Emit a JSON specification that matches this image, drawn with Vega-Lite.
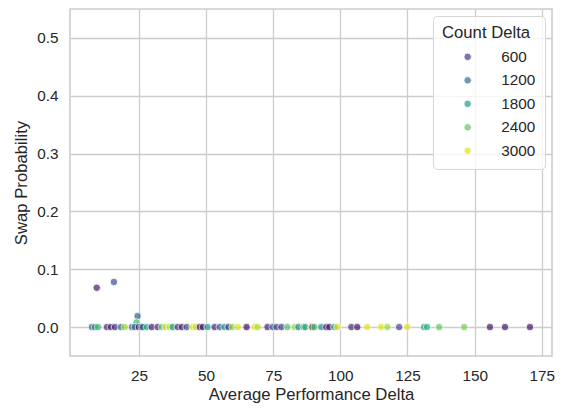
{
  "$schema": "https://vega.github.io/schema/vega-lite/v6.json",
  "width": 482,
  "height": 347,
  "autosize": {"type": "none"},
  "padding": {"left": 70, "top": 9, "right": 9, "bottom": 52},
  "background": "white",
  "config": {
    "font": "Liberation Sans",
    "view": {"stroke": "#cccccc", "strokeWidth": 1.6},
    "axis": {
      "domain": false,
      "ticks": false,
      "grid": true,
      "gridColor": "#cccccc",
      "gridWidth": 1.3,
      "labelColor": "#262626",
      "labelFontSize": 15.3,
      "titleColor": "#262626",
      "titleFontSize": 16.7,
      "titleFontWeight": "normal",
      "labelPadding": 12
    }
  },
  "data": {
    "values": [
      {"avg_perf_delta": 9.3, "swap_prob": 0.068, "count_delta": 250},
      {"avg_perf_delta": 15.7, "swap_prob": 0.078, "count_delta": 800},
      {"avg_perf_delta": 24.5, "swap_prob": 0.019, "count_delta": 1000},
      {"avg_perf_delta": 24.1, "swap_prob": 0.008, "count_delta": 2200},
      {"avg_perf_delta": 7.5, "swap_prob": 0, "count_delta": 1100},
      {"avg_perf_delta": 8.7, "swap_prob": 0, "count_delta": 1400},
      {"avg_perf_delta": 9.8, "swap_prob": 0, "count_delta": 2200},
      {"avg_perf_delta": 13.1, "swap_prob": 0, "count_delta": 400},
      {"avg_perf_delta": 14.6, "swap_prob": 0, "count_delta": 300},
      {"avg_perf_delta": 16.1, "swap_prob": 0, "count_delta": 500},
      {"avg_perf_delta": 18.3, "swap_prob": 0, "count_delta": 1100},
      {"avg_perf_delta": 19.8, "swap_prob": 0, "count_delta": 2700},
      {"avg_perf_delta": 22.4, "swap_prob": 0, "count_delta": 1000},
      {"avg_perf_delta": 23.5, "swap_prob": 0, "count_delta": 1200},
      {"avg_perf_delta": 25.0, "swap_prob": 0, "count_delta": 100},
      {"avg_perf_delta": 26.0, "swap_prob": 0, "count_delta": 400},
      {"avg_perf_delta": 26.5, "swap_prob": 0, "count_delta": 1300},
      {"avg_perf_delta": 28.0, "swap_prob": 0, "count_delta": 2000},
      {"avg_perf_delta": 29.8, "swap_prob": 0, "count_delta": 300},
      {"avg_perf_delta": 32.0, "swap_prob": 0, "count_delta": 400},
      {"avg_perf_delta": 33.6, "swap_prob": 0, "count_delta": 2400},
      {"avg_perf_delta": 35.0, "swap_prob": 0, "count_delta": 2900},
      {"avg_perf_delta": 36.5, "swap_prob": 0, "count_delta": 2800},
      {"avg_perf_delta": 37.6, "swap_prob": 0, "count_delta": 1700},
      {"avg_perf_delta": 39.5, "swap_prob": 0, "count_delta": 450},
      {"avg_perf_delta": 41.0, "swap_prob": 0, "count_delta": 300},
      {"avg_perf_delta": 42.8, "swap_prob": 0, "count_delta": 900},
      {"avg_perf_delta": 45.0, "swap_prob": 0, "count_delta": 3000},
      {"avg_perf_delta": 46.2, "swap_prob": 0, "count_delta": 2900},
      {"avg_perf_delta": 47.7, "swap_prob": 0, "count_delta": 100},
      {"avg_perf_delta": 48.8, "swap_prob": 0, "count_delta": 350},
      {"avg_perf_delta": 50.6, "swap_prob": 0, "count_delta": 1800},
      {"avg_perf_delta": 53.2, "swap_prob": 0, "count_delta": 400},
      {"avg_perf_delta": 55.1, "swap_prob": 0, "count_delta": 1000},
      {"avg_perf_delta": 56.9, "swap_prob": 0, "count_delta": 1600},
      {"avg_perf_delta": 58.4, "swap_prob": 0, "count_delta": 500},
      {"avg_perf_delta": 59.9, "swap_prob": 0, "count_delta": 2600},
      {"avg_perf_delta": 61.8, "swap_prob": 0, "count_delta": 3000},
      {"avg_perf_delta": 65.1, "swap_prob": 0, "count_delta": 150},
      {"avg_perf_delta": 68.1, "swap_prob": 0, "count_delta": 3000},
      {"avg_perf_delta": 69.2, "swap_prob": 0, "count_delta": 2800},
      {"avg_perf_delta": 72.9, "swap_prob": 0, "count_delta": 300},
      {"avg_perf_delta": 74.8, "swap_prob": 0, "count_delta": 900},
      {"avg_perf_delta": 76.3, "swap_prob": 0, "count_delta": 700},
      {"avg_perf_delta": 78.1, "swap_prob": 0, "count_delta": 600},
      {"avg_perf_delta": 80.3, "swap_prob": 0, "count_delta": 2300},
      {"avg_perf_delta": 82.9, "swap_prob": 0, "count_delta": 2700},
      {"avg_perf_delta": 84.4, "swap_prob": 0, "count_delta": 1500},
      {"avg_perf_delta": 86.3, "swap_prob": 0, "count_delta": 2100},
      {"avg_perf_delta": 87.0, "swap_prob": 0, "count_delta": 1900},
      {"avg_perf_delta": 89.2, "swap_prob": 0, "count_delta": 2900},
      {"avg_perf_delta": 89.6, "swap_prob": 0, "count_delta": 300},
      {"avg_perf_delta": 90.4, "swap_prob": 0, "count_delta": 2300},
      {"avg_perf_delta": 92.9, "swap_prob": 0, "count_delta": 1600},
      {"avg_perf_delta": 94.8, "swap_prob": 0, "count_delta": 200},
      {"avg_perf_delta": 95.9, "swap_prob": 0, "count_delta": 300},
      {"avg_perf_delta": 97.8, "swap_prob": 0, "count_delta": 1700},
      {"avg_perf_delta": 98.9, "swap_prob": 0, "count_delta": 3000},
      {"avg_perf_delta": 104.1, "swap_prob": 0, "count_delta": 400},
      {"avg_perf_delta": 106.3, "swap_prob": 0, "count_delta": 150},
      {"avg_perf_delta": 110.0, "swap_prob": 0, "count_delta": 3000},
      {"avg_perf_delta": 115.2, "swap_prob": 0, "count_delta": 3000},
      {"avg_perf_delta": 117.5, "swap_prob": 0, "count_delta": 2700},
      {"avg_perf_delta": 121.9, "swap_prob": 0, "count_delta": 700},
      {"avg_perf_delta": 124.9, "swap_prob": 0, "count_delta": 3000},
      {"avg_perf_delta": 131.2, "swap_prob": 0, "count_delta": 1800},
      {"avg_perf_delta": 132.3, "swap_prob": 0, "count_delta": 2100},
      {"avg_perf_delta": 136.8, "swap_prob": 0, "count_delta": 2400},
      {"avg_perf_delta": 146.1, "swap_prob": 0, "count_delta": 2500},
      {"avg_perf_delta": 155.7, "swap_prob": 0, "count_delta": 200},
      {"avg_perf_delta": 161.3, "swap_prob": 0, "count_delta": 200},
      {"avg_perf_delta": 170.6, "swap_prob": 0, "count_delta": 200}
    ]
  },
  "mark": {"type": "circle", "size": 56, "opacity": 0.7, "stroke": "white", "strokeWidth": 0.9},
  "encoding": {
    "x": {
      "field": "avg_perf_delta",
      "type": "quantitative",
      "title": "Average Performance Delta",
      "scale": {"domain": [-0.65, 178.8], "nice": false, "zero": false},
      "axis": {"values": [25, 50, 75, 100, 125, 150, 175], "titlePadding": 3}
    },
    "y": {
      "field": "swap_prob",
      "type": "quantitative",
      "title": "Swap Probability",
      "scale": {"domain": [-0.05, 0.55], "nice": false, "zero": false},
      "axis": {"values": [0, 0.1, 0.2, 0.3, 0.4, 0.5], "format": ".1f", "titlePadding": 6}
    },
    "color": {
      "field": "count_delta",
      "type": "quantitative",
      "title": "Count Delta",
      "scale": {"scheme": "viridis", "domain": [50, 3150]},
      "legend": {
        "type": "symbol",
        "values": [600, 1200, 1800, 2400, 3000],
        "format": "d",
        "orient": "top-right",
        "offset": 7,
        "padding": 9,
        "fillColor": "rgba(255,255,255,0.8)",
        "strokeColor": "#d6d6d6",
        "cornerRadius": 4,
        "titleFontSize": 16.7,
        "titleFontWeight": "normal",
        "titleColor": "#262626",
        "titlePadding": 7.5,
        "labelFontSize": 15.3,
        "labelColor": "#262626",
        "labelOffset": 26,
        "symbolOffset": 18,
        "symbolSize": 56,
        "symbolType": "circle",
        "symbolStrokeColor": "white",
        "symbolStrokeWidth": 0.9,
        "rowPadding": 7.5
      }
    }
  }
}
